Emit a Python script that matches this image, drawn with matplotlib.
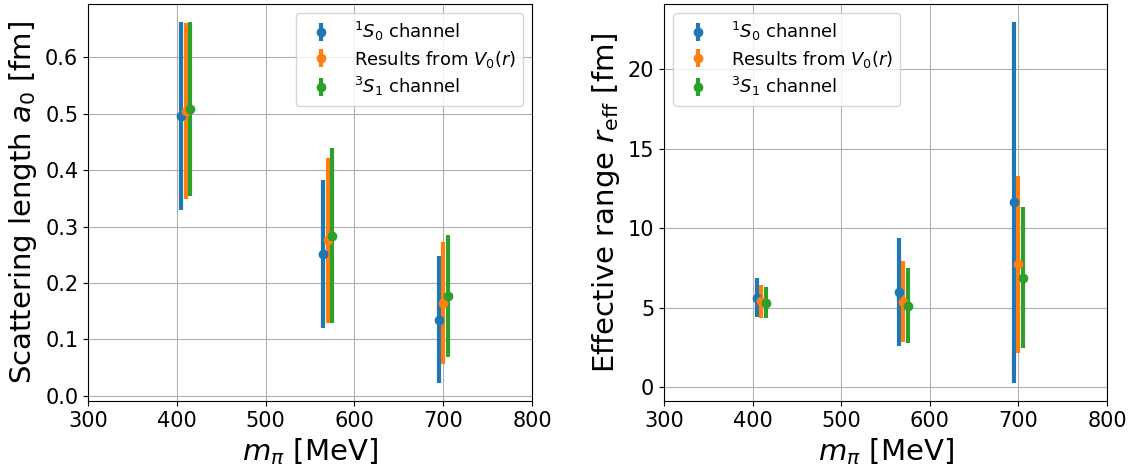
import matplotlib.pyplot as plt

# pion masses (MeV), shifted slightly per channel so the bars don't overlap
m_s0 = [405, 565, 695]
m_v0 = [410, 570, 700]
m_s1 = [415, 575, 705]

# scattering length a0 [fm] and errors
a0_s0 = [0.496, 0.251, 0.135]
a0_s0_err = [0.166, 0.131, 0.112]
a0_v0 = [0.504, 0.276, 0.165]
a0_v0_err = [0.156, 0.146, 0.108]
a0_s1 = [0.508, 0.284, 0.177]
a0_s1_err = [0.154, 0.155, 0.108]

# effective range r_eff [fm] and errors
r_s0 = [5.62, 6.0, 11.62]
r_s0_err = [1.23, 3.38, 11.35]
r_v0 = [5.41, 5.37, 7.74]
r_v0_err = [1.03, 2.55, 5.56]
r_s1 = [5.33, 5.14, 6.9]
r_s1_err = [0.95, 2.35, 4.45]

labels = [r'$^1S_0$ channel', r'Results from $V_0(r)$', r'$^3S_1$ channel']

fig = plt.figure(figsize=(11.4, 4.69), dpi=100)
ax1 = fig.add_axes([88/1140, 68/469, 444/1140, 397/469])
ax2 = fig.add_axes([664/1140, 68/469, 443/1140, 397/469])

kw = dict(fmt='o', elinewidth=3, markersize=6)

ax1.errorbar(m_s0, a0_s0, yerr=a0_s0_err, label=labels[0], **kw)
ax1.errorbar(m_v0, a0_v0, yerr=a0_v0_err, label=labels[1], **kw)
ax1.errorbar(m_s1, a0_s1, yerr=a0_s1_err, label=labels[2], **kw)
ax1.set_ylabel(r'Scattering length $a_0$ [fm]', fontsize=21)
ax1.legend(loc='upper right', fontsize=13, labelspacing=0.3)

ax2.errorbar(m_s0, r_s0, yerr=r_s0_err, label=labels[0], **kw)
ax2.errorbar(m_v0, r_v0, yerr=r_v0_err, label=labels[1], **kw)
ax2.errorbar(m_s1, r_s1, yerr=r_s1_err, label=labels[2], **kw)
ax2.set_ylabel(r'Effective range $r_{\rm eff}$ [fm]', fontsize=21)
ax2.legend(loc='upper left', fontsize=13, labelspacing=0.3)

for ax in (ax1, ax2):
    ax.set_xlim(300, 800)
    ax.set_xlabel(r'$m_\pi$ [MeV]', fontsize=21)
    ax.tick_params(labelsize=15)
    ax.grid(True)

fig.savefig('out.png', dpi=100)
